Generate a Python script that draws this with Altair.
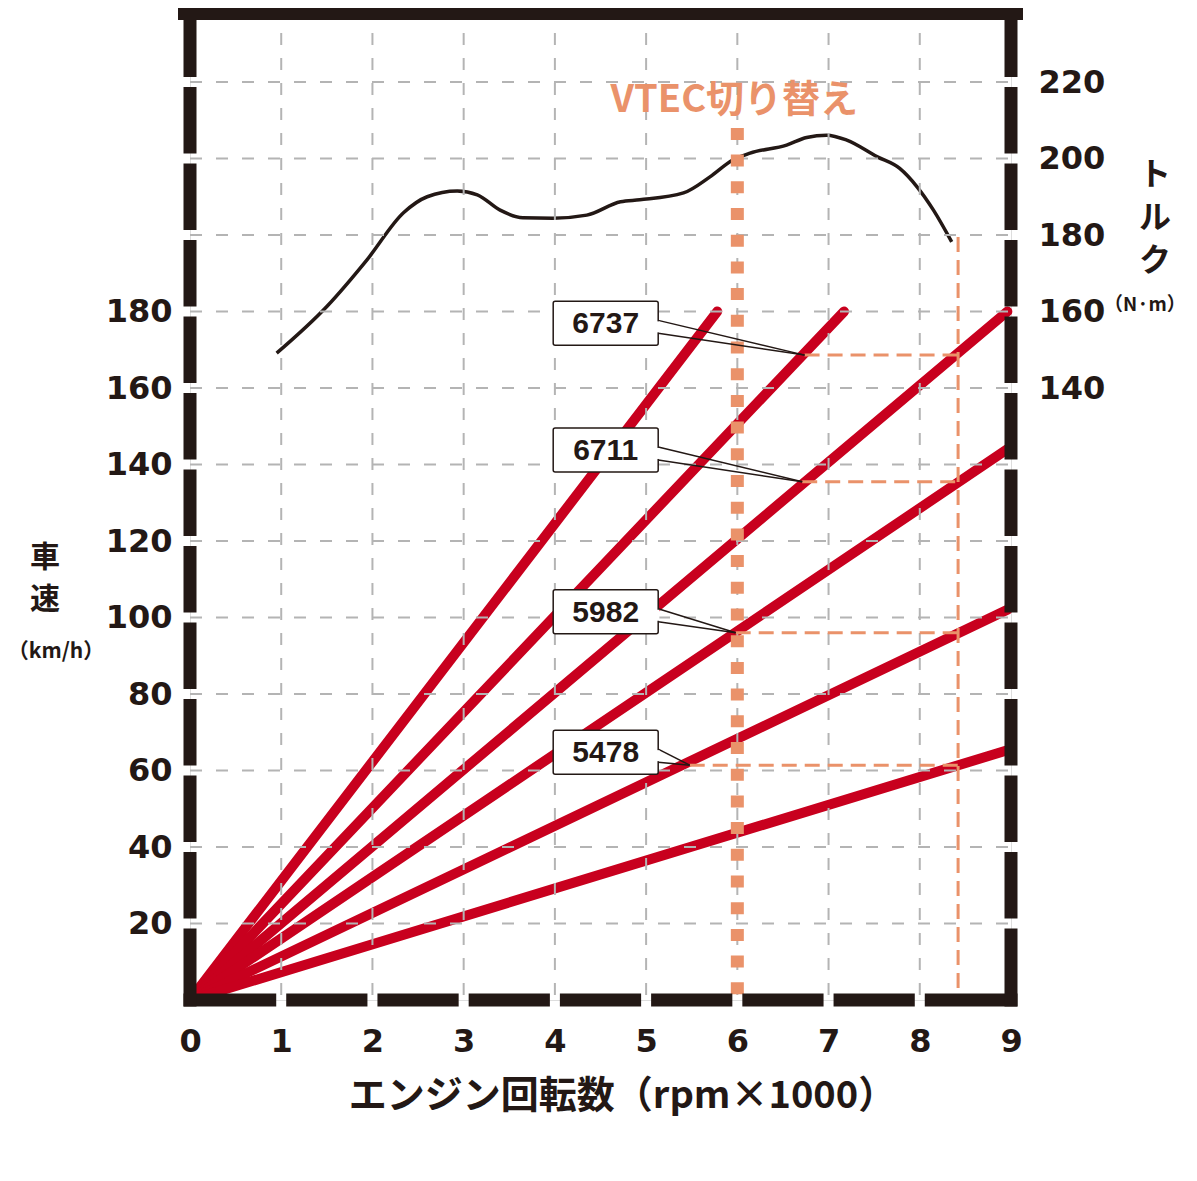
import altair as alt
import pandas as pd

# ---------------- values ----------------
rpm_ticks = [0, 1, 2, 3, 4, 5, 6, 7, 8, 9]
speed_ticks = [20, 40, 60, 80, 100, 120, 140, 160, 180]
torque_ticks = [140, 160, 180, 200, 220]
grid_rpm = [1, 2, 3, 4, 5, 6, 7, 8]
grid_speed = [20, 40, 60, 80, 100, 120, 140, 160, 180, 200, 220, 240]

# gear lines: from the origin to these end points (rpm x1000, km/h)
gear_end_rpm = [5.78, 7.17, 8.96, 8.96, 8.96, 8.96]
gear_end_speed = [180, 180, 180, 144, 102, 65.3]

# torque curve (rpm x1000, N·m)
torque_rpm = [0.95, 1.5, 1.94, 2.34, 2.6, 2.93, 3.15, 3.4, 3.65, 3.98, 4.35,
              4.72, 4.93, 5.41, 5.7, 5.95, 6.14, 6.54, 6.76, 6.98, 7.2, 7.53,
              7.78, 7.97, 8.15, 8.35]
torque_nm = [149.1, 161.3, 173.5, 185.8, 190.0, 191.5, 190.5, 186.5, 184.5,
             184.4, 185.2, 188.7, 189.2, 191.0, 195.2, 199.6, 201.4, 203.5,
             205.5, 206.1, 204.8, 200.5, 197.4, 192.6, 186.5, 178.2]

vtec_rpm = 6.0
vtec_top_speed = 228
vtec_label = "VTEC切り替え"
vtec_label_speed = 235

redline_rpm = 8.42
redline_top_speed = 199.5

shift_label = ["6737", "6711", "5982", "5478"]
shift_rpm = [6.737, 6.711, 5.982, 5.478]
shift_speed = [168.6, 135.5, 96.0, 61.4]
# callout box anchors (data units)
callout_rpm = [4.557, 4.557, 4.557, 4.557]
callout_speed = [176.9, 143.8, 101.5, 64.8]

# ---------------- styling ----------------
BLACK = "#231815"
RED = "#c8001e"
ORANGE = "#ea926a"
GRID = "#b4b4b4"
JP = "Noto Sans CJK JP"
NUM = "DejaVu Sans"

W, H = 821, 992
TOP = H / 3.825          # speed at the top edge of the plot
TQ_OFF = 20              # torque axis is the speed axis shifted by 20

xs = alt.Scale(domain=[0, 9], nice=False, zero=False)
ys = alt.Scale(domain=[0, TOP], nice=False, zero=False)

XAXIS = alt.Axis(values=rpm_ticks, ticks=False, domain=False, grid=False,
                 labelFont=NUM, labelFontSize=32, labelFontWeight="bold",
                 labelColor=BLACK, labelPadding=26, labelBaseline="top",
                 labelFlush=False, labelOverlap=False,
                 title="エンジン回転数（rpm×1000）", titleFont=JP,
                 titleFontSize=38, titleFontWeight="bold", titleColor=BLACK,
                 titleX=432, titleY=96, titleBaseline="middle",
                 titleAlign="center")


def X(f):
    return alt.X(f, type="quantitative", scale=xs, axis=XAXIS)


def Y(f):
    return alt.Y(f, type="quantitative", scale=ys, axis=None)


# ---------------- grid ----------------
vgrid = alt.Chart(pd.DataFrame({"rpm": grid_rpm})).mark_rule(
    color=GRID, strokeWidth=2, strokeDash=[12, 13]
).encode(x=X("rpm"), y=alt.value(0), y2=alt.value(H))

hgrid = alt.Chart(pd.DataFrame({"speed": grid_speed})).mark_rule(
    color=GRID, strokeWidth=2, strokeDash=[12, 14]
).encode(y=Y("speed"), x=alt.value(0), x2=alt.value(W))

# ---------------- torque curve (right axis) ----------------
torque = alt.Chart(pd.DataFrame({"rpm": torque_rpm, "torque": torque_nm})).mark_line(
    color=BLACK, strokeWidth=3.5, interpolate="monotone"
).encode(
    x=X("rpm"),
    y=alt.Y("torque:Q",
            scale=alt.Scale(domain=[-TQ_OFF, TOP - TQ_OFF], nice=False, zero=False),
            axis=alt.Axis(orient="right", values=torque_ticks, ticks=False, domain=False,
                          grid=False, labelFont=NUM, labelFontSize=32,
                          labelFontWeight="bold", labelColor=BLACK,
                          labelPadding=27, labelAlign="left", title=None)),
)

# ---------------- VTEC dotted line and label ----------------
vtec = alt.Chart(pd.DataFrame({"rpm": [vtec_rpm], "top": [vtec_top_speed], "bot": [0]})).mark_rule(
    color=ORANGE, strokeWidth=13, strokeDash=[12, 14.7], strokeCap="butt"
).encode(x=X("rpm"), y=Y("top"), y2="bot")

vtec_text = alt.Chart(pd.DataFrame({"rpm": [vtec_rpm], "s": [vtec_label_speed], "t": [vtec_label]})).mark_text(
    font=JP, fontSize=38, fontWeight="bold", color=ORANGE, align="center", baseline="middle", dx=-3
).encode(x=X("rpm"), y=Y("s"), text="t:N")

# ---------------- shift dashed guides ----------------
shift_df = pd.DataFrame({
    "label": shift_label, "rpm": shift_rpm, "speed": shift_speed,
    "red": [redline_rpm] * 4,
    "crpm": callout_rpm, "cspeed": callout_speed,
})

hguides = alt.Chart(shift_df).mark_rule(
    color=ORANGE, strokeWidth=3, strokeDash=[15, 8]
).encode(x=X("rpm"), x2="red", y=Y("speed"))

vguide = alt.Chart(pd.DataFrame({"rpm": [redline_rpm], "top": [redline_top_speed], "bot": [0]})).mark_rule(
    color=ORANGE, strokeWidth=3, strokeDash=[15, 8]
).encode(x=X("rpm"), y=Y("top"), y2="bot")

# ---------------- gear lines ----------------
gear_df = pd.DataFrame({
    "gear": list(range(1, 7)),
    "r0": [0] * 6, "s0": [0] * 6,
    "r1": gear_end_rpm, "s1": gear_end_speed,
})
gears = alt.Chart(gear_df).mark_rule(
    color=RED, strokeWidth=10, strokeCap="round"
).encode(
    x=X("r0"),
    y=alt.Y("s0:Q", scale=ys,
            axis=alt.Axis(orient="left", values=speed_ticks, ticks=False, domain=False,
                          grid=False, labelFont=NUM, labelFontSize=32,
                          labelFontWeight="bold", labelColor=BLACK,
                          labelPadding=18, title=None)),
    x2="r1", y2="s1",
)

# ---------------- callouts ----------------
BW, BH = 52.5, 22
tail_top = alt.Chart(shift_df).mark_rule(
    color=BLACK, strokeWidth=1.5, xOffset=BW, yOffset=-3
).encode(x=X("crpm"), y=Y("cspeed"), x2="rpm", y2="speed")
tail_bot = alt.Chart(shift_df).mark_rule(
    color=BLACK, strokeWidth=1.5, xOffset=BW, yOffset=10
).encode(x=X("crpm"), y=Y("cspeed"), x2="rpm", y2="speed")
boxes = alt.Chart(shift_df).mark_rect(
    fill="white", stroke=BLACK, strokeWidth=1.5, cornerRadius=2,
    xOffset=-BW, x2Offset=BW, yOffset=-BH, y2Offset=BH
).encode(x=X("crpm"), x2="crpm", y=Y("cspeed"), y2="cspeed")
tail_gap = alt.Chart(shift_df).mark_rule(
    color="white", strokeWidth=2.5, xOffset=BW, yOffset=-2, y2Offset=9
).encode(x=X("crpm"), y=Y("cspeed"), y2="cspeed")
box_text = alt.Chart(shift_df).mark_text(
    font="Liberation Sans", fontSize=30, fontWeight="bold", color=BLACK,
    align="center", baseline="middle", dy=1
).encode(x=X("crpm"), y=Y("cspeed"), text="label:N")

# ---------------- frame with gaps at grid lines ----------------
GW = 13
gx = (5 + GW / 2) / (W / 9)
gy = (5 + GW / 2) / (H / TOP)
seg = []
for a, b in zip(rpm_ticks[:-1], rpm_ticks[1:]):
    s = a + (gx if a != rpm_ticks[0] else 0)
    e = b - (gx if b != rpm_ticks[-1] else 0)
    seg.append({"x": s, "x2": e, "y": 0, "y2": 0})
ybounds = [0] + grid_speed + [TOP]
for xv in (rpm_ticks[0], rpm_ticks[-1]):
    for a, b in zip(ybounds[:-1], ybounds[1:]):
        s = a + (gy if a != 0 else 0)
        e = b - (gy if b != TOP else 0)
        seg.append({"x": xv, "x2": xv, "y": s, "y2": e})
frame = alt.Chart(pd.DataFrame(seg)).mark_rule(
    color=BLACK, strokeWidth=GW, strokeCap="square"
).encode(x=X("x"), x2="x2", y=Y("y"), y2="y2")
frame_top = alt.Chart(pd.DataFrame({"x": [0], "x2": [9], "y": [TOP]})).mark_rule(
    color=BLACK, strokeWidth=24, strokeCap="square"
).encode(x=X("x"), x2="x2", y=Y("y"))


# ---------------- side titles ----------------
def label(text, x, y, size, align="center", line_height=None):
    kw = dict(font=JP, fontSize=size, fontWeight="bold", color=BLACK, align=align,
              baseline="middle")
    if line_height:
        kw.update(lineBreak="\n", lineHeight=line_height)
    return alt.Chart(pd.DataFrame({"t": [text]})).mark_text(**kw).encode(
        text="t:N", x=alt.value(x), y=alt.value(y))


titles = [
    label("車\n速", -145, 550, 30, line_height=42),
    label("（km/h）", -134, 644, 21),
    label("ト\nル\nク", 965, 167, 32, line_height=43),
    label("（N·m）", 914, 297, 19, align="left"),
]

chart = alt.layer(
    gears, torque, vgrid, hgrid, vtec, hguides, vguide, vtec_text,
    tail_top, tail_bot, boxes, tail_gap, box_text, frame, frame_top, *titles
).resolve_scale(y="independent").properties(
    width=W, height=H,
    autosize=alt.AutoSizeParams(type="none"),
    padding={"left": 182, "top": 0, "right": 178, "bottom": 150},
).configure_view(strokeWidth=0).configure(background="white")

chart.save("out.html", embed_options={"renderer": "svg", "actions": False})
